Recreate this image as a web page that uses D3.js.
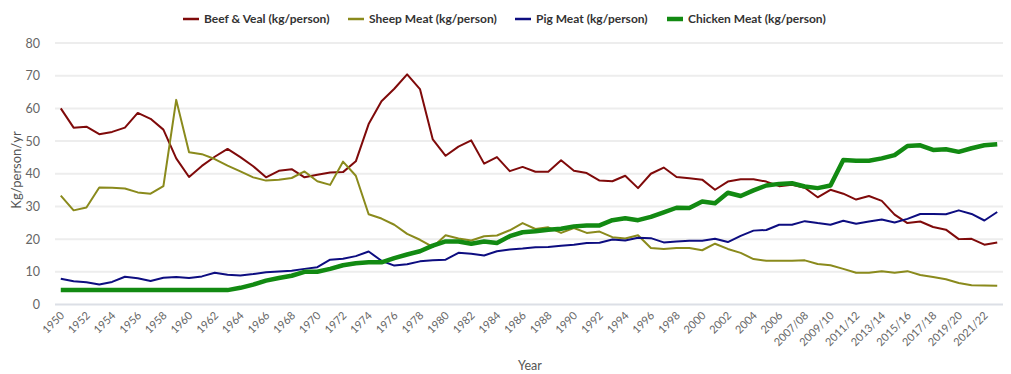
<!DOCTYPE html>
<html>
<head>
<meta charset="utf-8">
<script src="https://cdn.jsdelivr.net/npm/d3@7"></script>
<style>
  body { margin: 0; background: #fff; }
  svg text { font-family: Lato, "Open Sans", sans-serif; }
</style>
</head>
<body>
<div class="chart"></div>
<script>
// categories: 1950..2006 then financial years
var years = d3.range(1950, 2007).map(String)
  .concat(["2006/07", "2007/08", "2008/09", "2009/10", "2010/11", "2011/12", "2012/13",
    "2013/14", "2014/15", "2015/16", "2016/17", "2017/18", "2018/19", "2019/20",
    "2020/21", "2021/22", "2022/23"]);

var beef = [60, 54.1, 54.4, 52.1, 52.8, 54.1, 58.6, 56.8, 53.5, 44.7,
  39, 42.4, 45.2, 47.6, 45.1, 42.3, 38.9, 40.9, 41.4, 38.9,
  39.7, 40.4, 40.5, 43.8, 55.2, 62.2, 66, 70.4, 65.9, 50.5,
  45.5, 48.3, 50.2, 43.1, 45.1, 40.8, 42.1, 40.6, 40.6, 44.1,
  40.9, 40.2, 37.9, 37.7, 39.4, 35.6, 40, 41.9, 39,
  38.6, 38.2, 35.1, 37.6, 38.3, 38.3, 37.6, 36.2,
  36.6, 35.7, 32.8, 35.1, 33.9, 32.1, 33.2, 31.7, 27.5, 24.9, 25.4, 23.7, 22.9, 20, 20.1, 18.3, 19];

var sheep = [33.3, 28.8, 29.7, 35.8, 35.7, 35.5, 34.3, 33.9, 36.2, 62.6,
  46.6, 46, 44.5, 42.5, 40.7, 38.9, 37.9, 38.2, 38.7, 40.7,
  37.7, 36.6, 43.7, 39.4, 27.6, 26.3, 24.4, 21.6, 19.8, 17.6,
  21.2, 20.2, 19.6, 20.9, 21.1, 22.7, 24.9, 23.1, 23.6, 21.9,
  23.4, 21.9, 22.3, 20.6, 20.2, 21.2, 17.3, 17, 17.3,
  17.3, 16.6, 18.6, 17, 15.8, 13.9, 13.4, 13.4,
  13.4, 13.5, 12.4, 12, 10.9, 9.7, 9.7, 10.2, 9.7, 10.2, 9, 8.4, 7.7, 6.6, 5.9, 5.8, 5.7];

var pig = [7.9, 7.1, 6.8, 6.1, 6.9, 8.5, 8, 7.2, 8.2, 8.4,
  8.1, 8.6, 9.7, 9.1, 8.9, 9.3, 9.9, 10.1, 10.3, 10.9,
  11.4, 13.7, 14, 14.8, 16.2, 13.4, 11.9, 12.3, 13.2, 13.5,
  13.7, 15.8, 15.5, 15, 16.3, 16.8, 17.1, 17.5, 17.6, 18,
  18.3, 18.8, 18.9, 19.9, 19.6, 20.4, 20.3, 19, 19.3,
  19.5, 19.5, 20.1, 19.1, 21, 22.6, 22.8, 24.4,
  24.4, 25.5, 24.9, 24.4, 25.6, 24.7, 25.4, 26, 25.1, 26.2, 27.7, 27.7, 27.6, 28.8, 27.7, 25.7, 28.3];

var chicken = [4.4, 4.4, 4.4, 4.4, 4.4, 4.4, 4.4, 4.4, 4.4, 4.4,
  4.4, 4.4, 4.4, 4.4, 5.1, 6.1, 7.3, 8.1, 8.8, 10,
  10, 10.9, 12, 12.6, 12.9, 12.9, 14.2, 15.3, 16.3, 18,
  19.3, 19.3, 18.6, 19.3, 18.8, 20.9, 22.1, 22.4, 22.9, 23.2,
  23.9, 24.2, 24.2, 25.8, 26.4, 25.8, 26.8, 28.2, 29.6,
  29.5, 31.5, 31, 34.2, 33.2, 34.9, 36.4, 36.9,
  37.1, 36.1, 35.6, 36.4, 44.2, 44, 44, 44.7, 45.7, 48.5, 48.7, 47.3, 47.5, 46.7, 47.8, 48.7, 49];

var seriesNames = ["Beef & Veal (kg/person)", "Sheep Meat (kg/person)", "Pig Meat (kg/person)", "Chicken Meat (kg/person)"];
var yTicks = [0, 10, 20, 30, 40, 50, 60, 70, 80];

var series = [
  {name: seriesNames[0], values: beef, color: "#7f0a0a", width: 2},
  {name: seriesNames[1], values: sheep, color: "#8a8a1c", width: 2},
  {name: seriesNames[2], values: pig, color: "#0d0d80", width: 2},
  {name: seriesNames[3], values: chicken, color: "#128a12", width: 4.5}
];

var width = 1011, height = 374;
var plotLeft = 55, plotRight = 1003, plotTop = 43, plotBottom = 304.5;

var svg = d3.select(".chart").append("svg")
  .attr("width", width)
  .attr("height", height);

var x = d3.scalePoint()
  .domain(years)
  .range([plotLeft, plotRight])
  .padding(0.45);

var y = d3.scaleLinear()
  .domain([0, 80])
  .range([plotBottom, plotTop]);

// gridlines
svg.append("g")
  .selectAll("line")
  .data(yTicks)
  .enter()
  .append("line")
  .attr("x1", plotLeft)
  .attr("x2", plotRight)
  .attr("y1", (d) => y(d))
  .attr("y2", (d) => y(d))
  .style("stroke", (d) => d === 0 ? "#dcdfe6" : "#ededed")
  .style("stroke-width", 2);

// y axis labels
var yAxis = svg.append("g")
  .attr("transform", "translate(" + (plotLeft - 15) + ",0)")
  .call(d3.axisLeft(y).tickValues(yTicks).tickSize(0).tickPadding(0));
yAxis.select(".domain").remove();
yAxis.selectAll("text")
  .attr("font-size", "12.5px")
  .attr("fill", "#666");

// x axis labels, every second category
var xAxis = svg.append("g")
  .attr("transform", "translate(0," + (plotBottom + 9) + ")")
  .call(d3.axisBottom(x).tickValues(years.filter((d, i) => i % 2 === 0)).tickSize(0).tickPadding(0));
xAxis.select(".domain").remove();
xAxis.selectAll("text")
  .attr("font-size", "11px")
  .attr("fill", "#666")
  .attr("text-anchor", "end")
  .attr("dy", "0.35em")
  .attr("transform", "translate(1,0) rotate(-45)");

// lines
var line = d3.line()
  .x((d, i) => x(years[i]))
  .y((d) => y(d));

svg.append("g")
  .selectAll("path")
  .data(series)
  .enter()
  .append("path")
  .attr("d", (d) => line(d.values))
  .style("fill", "none")
  .style("stroke", (d) => d.color)
  .style("stroke-width", (d) => d.width)
  .style("stroke-linejoin", "round");

// legend
var legendX = [183, 348, 515, 667];
var legend = svg.append("g")
  .selectAll("g")
  .data(series)
  .enter()
  .append("g")
  .attr("transform", (d, i) => "translate(" + legendX[i] + ",19)");

legend.append("line")
  .attr("x1", 0)
  .attr("x2", 16)
  .style("stroke", (d) => d.color)
  .style("stroke-width", (d) => d.width === 2 ? 2.5 : 4.5);

legend.append("text")
  .attr("x", 21)
  .attr("dy", "0.35em")
  .attr("font-size", "12px")
  .attr("font-weight", "bold")
  .attr("fill", "#333")
  .text((d) => d.name);

// axis titles
svg.append("text")
  .attr("x", 530)
  .attr("y", 370)
  .attr("text-anchor", "middle")
  .attr("font-size", "12.5px")
  .attr("fill", "#555")
  .text("Year");

svg.append("text")
  .attr("transform", "translate(21,170) rotate(-90)")
  .attr("text-anchor", "middle")
  .attr("font-size", "13px")
  .attr("fill", "#555")
  .text("Kg/person/yr");
</script>
</body>
</html>
